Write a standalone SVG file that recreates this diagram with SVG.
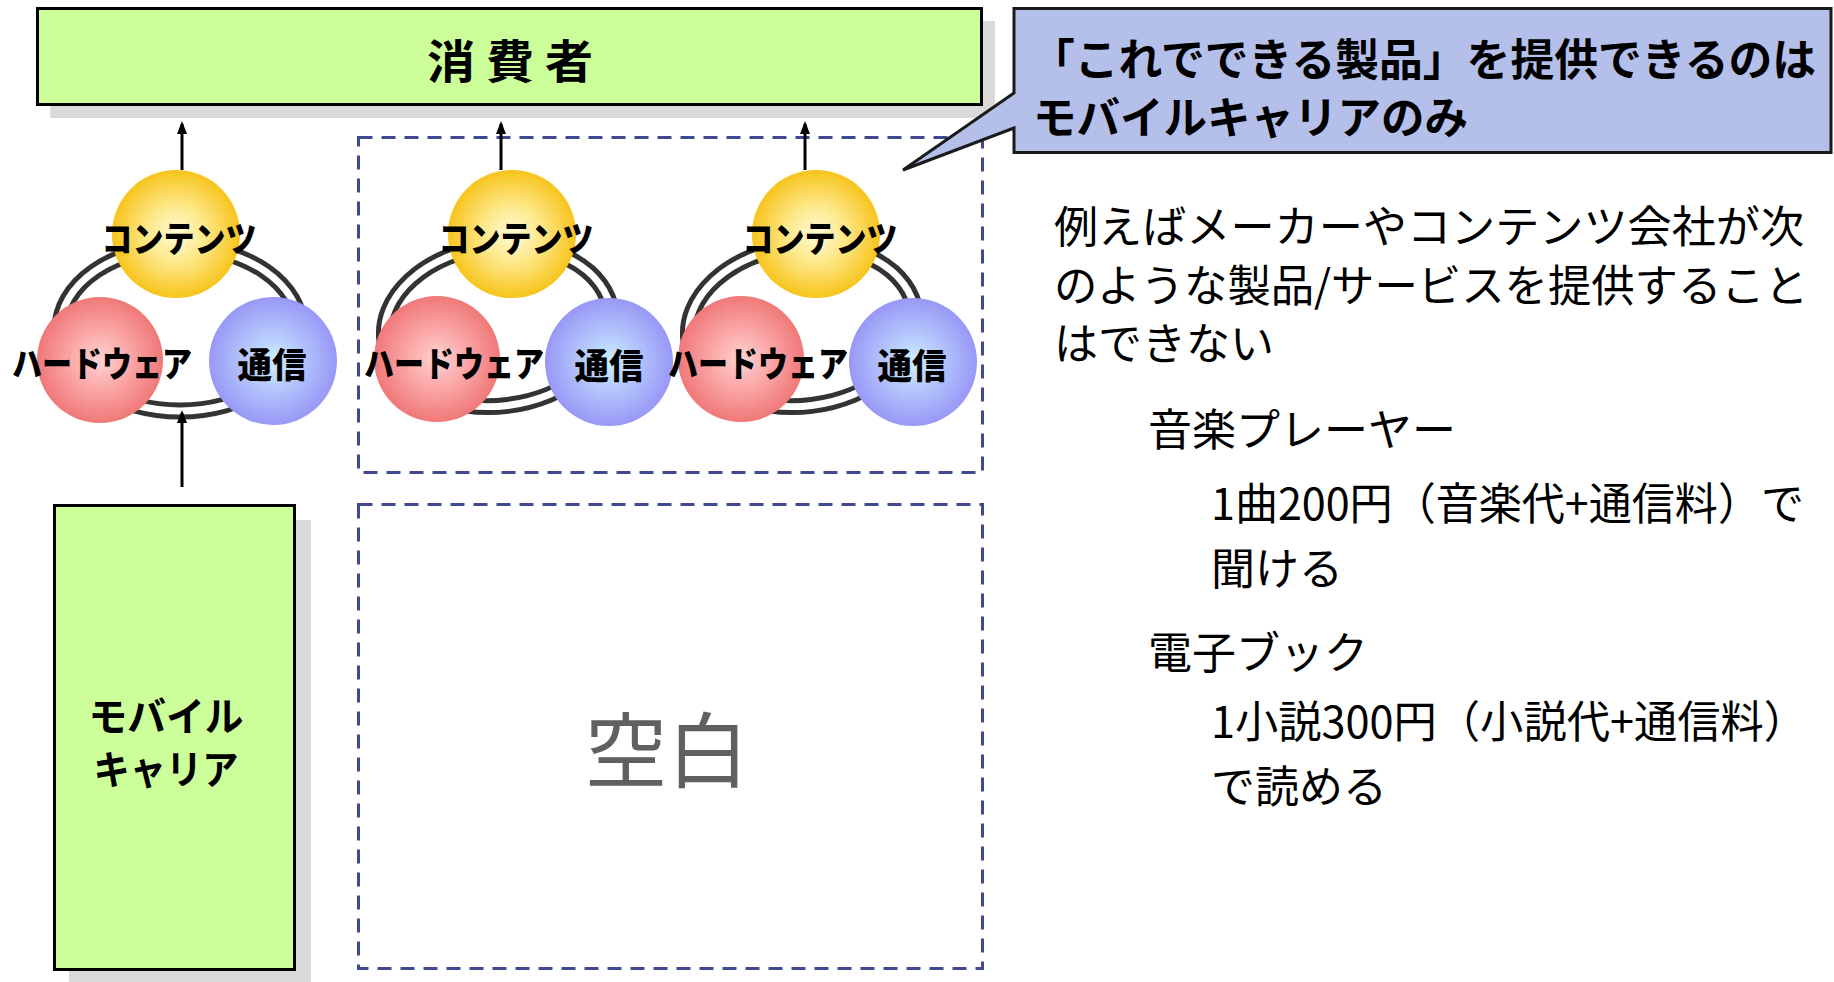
<svg xmlns="http://www.w3.org/2000/svg" width="1834" height="982" viewBox="0 0 1834 982">
<style>
  .shadow{fill:#d9d9d9}
  .box{fill:#ccff99;stroke:#000;stroke-width:3}
  .dash{fill:none;stroke:#404890;stroke-width:3;stroke-dasharray:14 9}
  .ring{fill:none;stroke:#333;stroke-width:5}
  .jp{font-family:"Noto Sans CJK JP","Noto Sans CJK SC",sans-serif;fill:#000;dominant-baseline:central}
  .lbl{font-size:35px;font-weight:900;text-anchor:middle}
  .body{font-size:44px}
  .arrow{stroke:#000;stroke-width:3;fill:none;marker-end:url(#ah)}
  .yc{fill:url(#gY)}
  .rc{fill:url(#gR)}
  .bc{fill:url(#gB)}
</style>
<defs>
  <marker id="ah" markerUnits="userSpaceOnUse" markerWidth="14" markerHeight="12" viewBox="0 0 14 12" refX="10" refY="6" orient="auto">
    <path d="M0,1 L13,6 L0,11 Z" fill="#000"/>
  </marker>
  <radialGradient id="gY" cx="0.5" cy="0.5" r="0.5">
    <stop offset="0" stop-color="#fffbd6"/>
    <stop offset="0.45" stop-color="#fde88a"/>
    <stop offset="1" stop-color="#f7c41c"/>
  </radialGradient>
  <radialGradient id="gR" cx="0.5" cy="0.5" r="0.5">
    <stop offset="0" stop-color="#ffd2d2"/>
    <stop offset="0.45" stop-color="#fba9a9"/>
    <stop offset="1" stop-color="#f07878"/>
  </radialGradient>
  <radialGradient id="gB" cx="0.5" cy="0.5" r="0.5">
    <stop offset="0" stop-color="#ccf0ff"/>
    <stop offset="0.45" stop-color="#b4c6fc"/>
    <stop offset="1" stop-color="#9898f6"/>
  </radialGradient>
</defs>

<!-- consumer box -->
<g id="consumer">
  <rect class="shadow" x="50" y="21" width="945" height="97"/>
  <rect class="box" x="37.5" y="8.5" width="944" height="96"/>
  <text class="jp" x="510" y="58" font-size="46" font-weight="bold" text-anchor="middle" textLength="166" lengthAdjust="spacingAndGlyphs">消 費 者</text>
</g>

<!-- mobile carrier box -->
<g id="carrier">
  <rect class="shadow" x="69" y="520" width="242" height="470"/>
  <rect class="box" x="54.5" y="505.5" width="240" height="464"/>
  <text class="jp" x="166" y="714" font-size="40" font-weight="bold" text-anchor="middle" textLength="155" lengthAdjust="spacingAndGlyphs">モバイル</text>
  <text class="jp" x="166" y="767" font-size="40" font-weight="bold" text-anchor="middle" textLength="145" lengthAdjust="spacingAndGlyphs">キャリア</text>
</g>

<!-- dashed regions -->
<g id="region-upper">
  <rect class="dash" x="358.5" y="137.5" width="624" height="335"/>
</g>
<g id="region-blank">
  <rect class="dash" x="358.5" y="504.5" width="624" height="464"/>
  <text class="jp" x="667" y="745" font-size="82" style="fill:#606060" text-anchor="middle">空白</text>
</g>

<!-- cluster 1 -->
<g id="cluster1">
  <g id="ring1">
    <ellipse class="ring" cx="180" cy="329" rx="126" ry="88"/>
    <ellipse class="ring" cx="180" cy="329" rx="114" ry="76"/>
  </g>
  <g id="contents1"><circle class="yc" cx="176" cy="234" r="64"/><text class="jp lbl" x="179" y="236" textLength="155" lengthAdjust="spacingAndGlyphs">コンテンツ</text></g>
  <g id="hardware1"><circle class="rc" cx="100" cy="360" r="63"/><text class="jp lbl" x="102" y="361" textLength="180" lengthAdjust="spacingAndGlyphs">ハードウェア</text></g>
  <g id="comm1"><circle class="bc" cx="273" cy="361" r="64"/><text class="jp lbl" x="272" y="362" textLength="69" lengthAdjust="spacingAndGlyphs">通信</text></g>
</g>

<!-- cluster 2 -->
<g id="cluster2">
  <g id="ring2">
    <ellipse class="ring" cx="498" cy="326" rx="120" ry="86" transform="rotate(-7 498 326)"/>
    <ellipse class="ring" cx="498" cy="326" rx="108" ry="74" transform="rotate(-7 498 326)"/>
  </g>
  <g id="contents2"><circle class="yc" cx="512" cy="234" r="64"/><text class="jp lbl" x="516" y="236" textLength="155" lengthAdjust="spacingAndGlyphs">コンテンツ</text></g>
  <g id="hardware2"><circle class="rc" cx="437" cy="359" r="63"/><text class="jp lbl" x="454" y="361" textLength="180" lengthAdjust="spacingAndGlyphs">ハードウェア</text></g>
  <g id="comm2"><circle class="bc" cx="609" cy="362" r="64"/><text class="jp lbl" x="609" y="363" textLength="69" lengthAdjust="spacingAndGlyphs">通信</text></g>
</g>

<!-- cluster 3 -->
<g id="cluster3">
  <g id="ring3">
    <ellipse class="ring" cx="802" cy="326" rx="120" ry="86" transform="rotate(-7 802 326)"/>
    <ellipse class="ring" cx="802" cy="326" rx="108" ry="74" transform="rotate(-7 802 326)"/>
  </g>
  <g id="contents3"><circle class="yc" cx="816" cy="234" r="64"/><text class="jp lbl" x="820" y="236" textLength="155" lengthAdjust="spacingAndGlyphs">コンテンツ</text></g>
  <g id="hardware3"><circle class="rc" cx="741" cy="359" r="63"/><text class="jp lbl" x="758" y="361" textLength="180" lengthAdjust="spacingAndGlyphs">ハードウェア</text></g>
  <g id="comm3"><circle class="bc" cx="913" cy="362" r="64"/><text class="jp lbl" x="912" y="363" textLength="69" lengthAdjust="spacingAndGlyphs">通信</text></g>
</g>

<!-- connectors -->
<g id="connectors">
  <line class="arrow" x1="182" y1="170" x2="182" y2="124"/>
  <line class="arrow" x1="501" y1="170" x2="501" y2="124"/>
  <line class="arrow" x1="805" y1="170" x2="805" y2="124"/>
  <line class="arrow" x1="182" y1="487" x2="182" y2="413"/>
</g>

<!-- callout -->
<g id="callout">
  <path d="M1014,8.5 H1831 V152.5 H1014 V128 L903,170 L1014,93 Z" fill="#b4bfea" stroke="#1a1a1a" stroke-width="3" stroke-linejoin="miter"/>
  <text class="jp" x="1031" y="57" font-size="44" font-weight="bold" textLength="785" lengthAdjust="spacingAndGlyphs">「これでできる製品」を提供できるのは</text>
  <text class="jp" x="1033" y="115" font-size="44" font-weight="bold" textLength="435" lengthAdjust="spacingAndGlyphs">モバイルキャリアのみ</text>
</g>

<!-- explanatory text -->
<g id="description">
  <text class="jp body" x="1054" y="224" textLength="750" lengthAdjust="spacingAndGlyphs">例えばメーカーやコンテンツ会社が次</text>
  <text class="jp body" x="1054" y="283" textLength="754" lengthAdjust="spacingAndGlyphs">のような製品/サービスを提供すること</text>
  <text class="jp body" x="1054" y="341">はできない</text>
  <text class="jp body" x="1148" y="427">音楽プレーヤー</text>
  <text class="jp body" x="1211" y="501" textLength="593" lengthAdjust="spacingAndGlyphs">1曲200円（音楽代+通信料）で</text>
  <text class="jp body" x="1211" y="566">聞ける</text>
  <text class="jp body" x="1148" y="650">電子ブック</text>
  <text class="jp body" x="1211" y="719" textLength="596" lengthAdjust="spacingAndGlyphs">1小説300円（小説代+通信料）</text>
  <text class="jp body" x="1211" y="784">で読める</text>
</g>
</svg>
